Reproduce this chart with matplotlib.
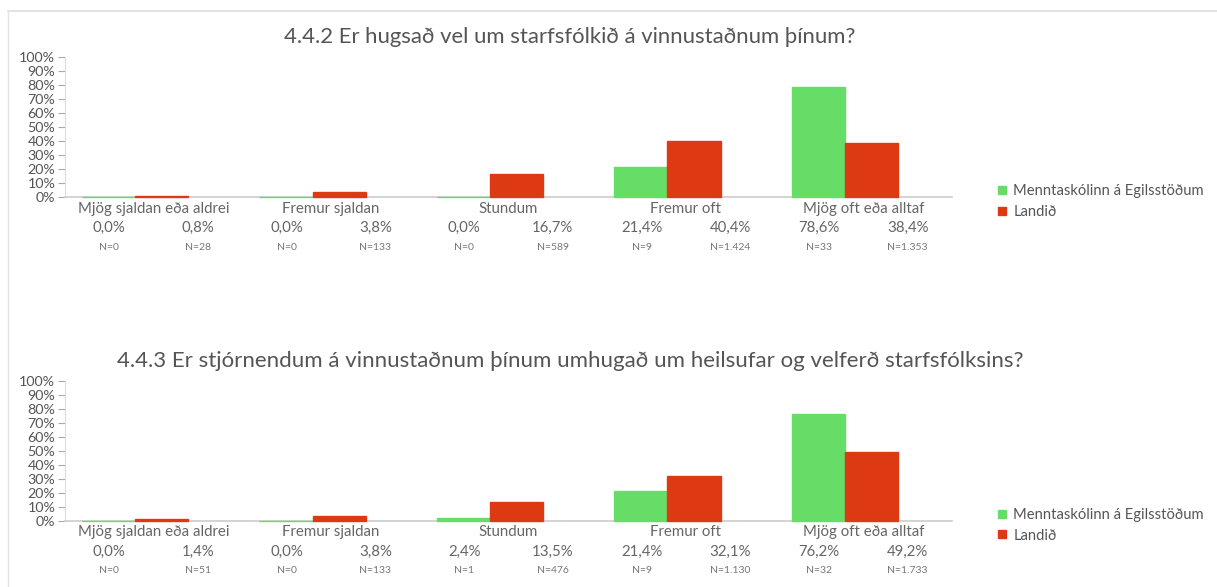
import matplotlib.pyplot as plt
from matplotlib.lines import Line2D

# data
# =======================
categories = ['Mjög sjaldan eða aldrei', 'Fremur sjaldan', 'Stundum', 'Fremur oft', 'Mjög oft eða alltaf']
series_names = ['Menntaskólinn á Egilsstöðum', 'Landið']

title_1 = '4.4.2 Er hugsað vel um starfsfólkið á vinnustaðnum þínum?'
school_1 = [0.0, 0.0, 0.0, 21.4, 78.6]
country_1 = [0.8, 3.8, 16.7, 40.4, 38.4]
school_n_1 = ['0', '0', '0', '9', '33']
country_n_1 = ['28', '133', '589', '1.424', '1.353']

title_2 = '4.4.3 Er stjórnendum á vinnustaðnum þínum umhugað um heilsufar og velferð starfsfólksins?'
school_2 = [0.0, 0.0, 2.4, 21.4, 76.2]
country_2 = [1.4, 3.8, 13.5, 32.1, 49.2]
school_n_2 = ['0', '0', '1', '9', '32']
country_n_2 = ['51', '133', '476', '1.130', '1.733']

GREEN = '#66dd66'
RED = '#dd3a14'
W, H = 1217, 587

plt.rcParams['font.family'] = ['Lato', 'DejaVu Sans']


def fmt(v):
    return ('%.1f%%' % v).replace('.', ',')


def draw_panel(fig, top_px, zero_px, title, title_size, school, country, school_n, country_n):
    ax = fig.add_axes([65 / W, 1 - zero_px / H, 887 / W, (zero_px - top_px) / H])
    ax.set_facecolor('none')
    xs = range(len(categories))
    ax.bar([i + 0.096 for i in xs], school, width=0.30, align='edge', color=GREEN,
           edgecolor=GREEN, linewidth=1.0, zorder=3, clip_on=False)
    ax.bar([i + 0.396 for i in xs], country, width=0.30, align='edge', color=RED,
           edgecolor=RED, linewidth=1.0, zorder=3, clip_on=False)
    ax.set_xlim(0, len(categories))
    ax.set_ylim(0, 100)
    ax.set_yticks(range(0, 101, 10))
    ax.set_yticklabels(['%d%%' % t for t in range(0, 101, 10)])
    ax.set_xticks([])
    for s in ['top', 'right']:
        ax.spines[s].set_visible(False)
    ax.spines['left'].set_color('#dddddd')
    ax.spines['bottom'].set_color('#cccccc')
    ax.spines['bottom'].set_linewidth(1.2)
    ax.tick_params(axis='y', colors='#aaaaaa', length=5, width=0.8, pad=2, labelsize=10.3,
                   labelcolor='#555555')

    # labels under the bars
    tr = ax.get_xaxis_transform()
    for i in xs:
        ax.text(i + 0.5, -0.08, categories[i], transform=tr,
                ha='center', va='center', fontsize=10.8, color='#666666')
        ax.text(i + 0.25, -0.22, fmt(school[i]), transform=tr,
                ha='center', va='center', fontsize=10.8, color='#666666')
        ax.text(i + 0.75, -0.22, fmt(country[i]), transform=tr,
                ha='center', va='center', fontsize=10.8, color='#666666')
        ax.text(i + 0.25, -0.355, 'N=' + school_n[i], transform=tr,
                ha='center', va='center', fontsize=7.5, color='#777777')
        ax.text(i + 0.75, -0.355, 'N=' + country_n[i], transform=tr,
                ha='center', va='center', fontsize=7.5, color='#777777')

    fig.text(570 / W, 1 - (top_px - 20) / H, title, ha='center', va='center',
             fontsize=title_size, color='#555555')

    handles = [Line2D([], [], marker='s', linestyle='none', markersize=5.5,
                      markerfacecolor=c, markeredgecolor=c) for c in (GREEN, RED)]
    fig.legend(handles, series_names, loc='upper left',
               bbox_to_anchor=(998 / W, 1 - (zero_px - 13) / H), frameon=False,
               fontsize=10.6, labelcolor='#555555', handlelength=0.6, handletextpad=0.45,
               labelspacing=0.45, borderaxespad=0, borderpad=0)
    return ax


fig = plt.figure(figsize=(W / 100, H / 100), dpi=100)
fig.patch.set_facecolor('white')

# card outline
fig.add_artist(Line2D([8 / W, 1], [1 - 11 / H, 1 - 11 / H], color='#dddddd', linewidth=1.2))
fig.add_artist(Line2D([8 / W, 8 / W], [0, 1 - 11 / H], color='#e4e4e4', linewidth=1.0))

draw_panel(fig, 57, 197.3, title_1, 15.9, school_1, country_1, school_n_1, country_n_1)
draw_panel(fig, 381, 521, title_2, 16.0, school_2, country_2, school_n_2, country_n_2)

fig.savefig('out.png', dpi=100)
